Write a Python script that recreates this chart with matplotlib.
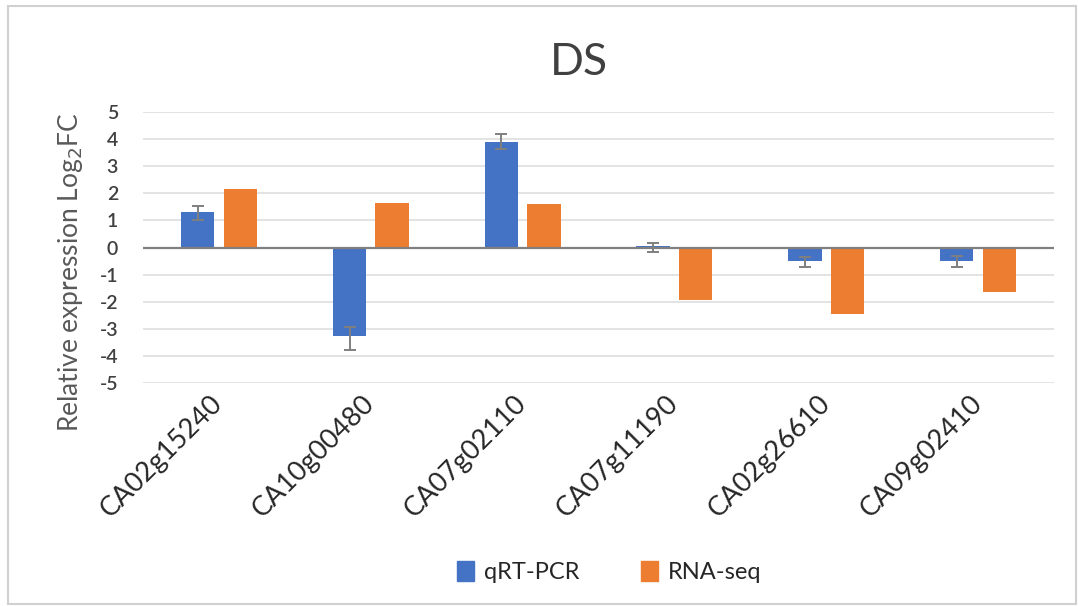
import numpy as np
import matplotlib
matplotlib.use("Agg")
import matplotlib.pyplot as plt
from matplotlib.patches import Rectangle, Patch

plt.rcParams['font.family'] = ['Lato', 'DejaVu Sans']

# genes and log2 fold change values
genes = ['CA02g15240', 'CA10g00480', 'CA07g02110', 'CA07g11190', 'CA02g26610', 'CA09g02410']
qrt_pcr = [1.30, -3.25, 3.87, 0.04, -0.51, -0.48]
qrt_err_low = [0.28, 0.54, 0.25, 0.20, 0.21, 0.22]
qrt_err_high = [0.23, 0.32, 0.33, 0.12, 0.18, 0.16]
rna_seq = [2.14, 1.63, 1.59, -1.95, -2.44, -1.64]
y_ticks = [5, 4, 3, 2, 1, 0, -1, -2, -3, -4, -5]

blue = '#4472C4'
orange = '#ED7D31'

fig = plt.figure(figsize=(10.78, 6.06), dpi=100)
ax = fig.add_axes([0.1327, 0.3675, 0.845, 0.448])

x = np.arange(len(genes))
w = 0.22
off = 0.14

ax.bar(x - off, qrt_pcr, w, color=blue, zorder=3,
       yerr=[qrt_err_low, qrt_err_high], ecolor='#7f7f7f',
       error_kw=dict(capsize=4.5, elinewidth=1.4, capthick=1.4, zorder=4))
ax.bar(x + off, rna_seq, w, color=orange, zorder=3)

ax.set_xlim(-0.5, len(genes) - 0.5)
ax.set_ylim(-5, 5)
ax.set_yticks(y_ticks)
ax.set_yticklabels([str(t) for t in y_ticks], fontsize=14, color='#404040',
                   fontweight='semibold')
ax.yaxis.grid(True, color='#e0e0e0', linewidth=1.3, zorder=0)
ax.axhline(0, color='#808080', linewidth=1.6, zorder=3.5)
for s in ax.spines.values():
    s.set_visible(False)
ax.tick_params(axis='y', length=0, pad=18)
ax.tick_params(axis='x', length=0, pad=12)

ax.set_xticks(x)
ax.set_xticklabels(genes, rotation=45, ha='right', va='center',
                   rotation_mode='anchor', fontsize=19.5, color='#262626')

ax.set_ylabel('Relative expression Log$_2$FC', fontsize=19, color='#595959')
ax.yaxis.set_label_coords(-0.064, 0.41)

fig.text(0.537, 0.897, 'DS', ha='center', va='center', fontsize=32, color='#404040')

handles = [Patch(color=blue, label='qRT-PCR'), Patch(color=orange, label='RNA-seq')]
fig.legend(handles=handles, loc='center', bbox_to_anchor=(0.565, 0.056), ncol=2,
           frameon=False, fontsize=17, handlelength=0.75, handleheight=0.9,
           handletextpad=0.4, columnspacing=2.6, labelcolor='#262626')

# light frame round the chart
fig.patches.append(Rectangle((8 / 1078, 2 / 606), 1068 / 1078, 598 / 606,
                             transform=fig.transFigure, fill=False,
                             edgecolor='#d0d0d0', linewidth=1.5))

fig.savefig('out.png', dpi=100)
